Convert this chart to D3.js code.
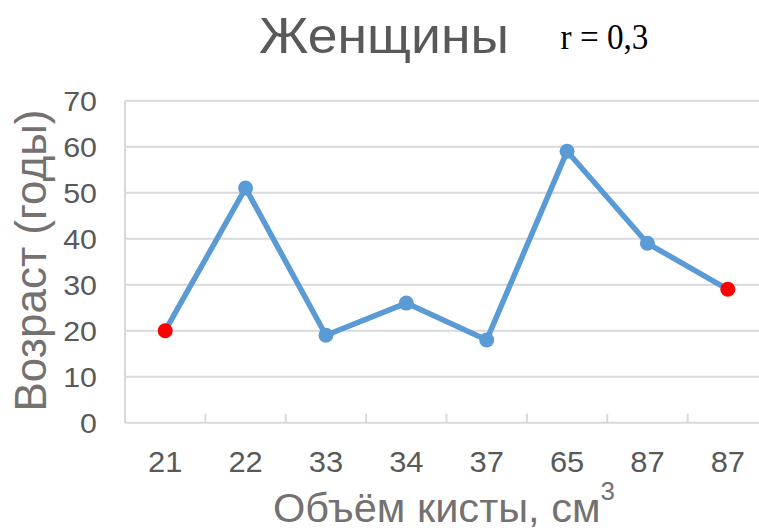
<!DOCTYPE html>
<html>
<head>
<meta charset="utf-8">
<script src="https://cdn.jsdelivr.net/npm/d3@7"></script>
<style>
  html, body { margin: 0; padding: 0; background: #fff; }
  svg { display: block; }
</style>
</head>
<body>
<svg id="chart" width="759" height="532"></svg>
<script>
// Cyst volume (cm³) per patient, in the order plotted
const categories = ["21", "22", "33", "34", "37", "65", "87", "87"];
// Patient age (years)
const ages = [20, 51, 19, 26, 18, 59, 39, 29];
// Points shown in red (first and last)
const highlighted = [true, false, false, false, false, false, false, true];
const yTicks = [0, 10, 20, 30, 40, 50, 60, 70];

const svg = d3.select("#chart");
const plotLeft = 125, plotRight = 768, plotTop = 100.7, plotBottom = 422.7;

const x = d3.scaleBand().domain(d3.range(categories.length)).range([plotLeft, plotRight]);
const y = d3.scaleLinear().domain([0, 70]).range([plotBottom, plotTop]);

const grid = "#d9d9d9";
const textCol = "#595959";
const titleCol = "#767171";
const sans = "Liberation Sans, Arial, sans-serif";
const widen = 1.065; // slightly wide lettering

// stretch a text element horizontally about a fixed x position
function stretch(sel, sx, ox) {
  sel.attr("transform", `translate(${ox},0) scale(${sx},1) translate(${-ox},0)`);
}
// stretch a centred text element so its width equals target
function fitWidth(sel, target, cx) {
  const w = sel.node().getBBox().width;
  stretch(sel, target / w, cx);
}

// horizontal gridlines
svg.append("g")
  .selectAll("line")
  .data(yTicks.filter(d => d > 0))
  .join("line")
  .attr("x1", plotLeft).attr("x2", plotRight)
  .attr("y1", d => y(d)).attr("y2", d => y(d))
  .attr("stroke", grid).attr("stroke-width", 2);

// left axis line
svg.append("line")
  .attr("x1", plotLeft).attr("x2", plotLeft)
  .attr("y1", plotTop).attr("y2", plotBottom)
  .attr("stroke", grid).attr("stroke-width", 2);

// category axis with ticks between categories
const xAxis = svg.append("g");
xAxis.append("line")
  .attr("x1", plotLeft).attr("x2", plotRight)
  .attr("y1", plotBottom).attr("y2", plotBottom)
  .attr("stroke", grid).attr("stroke-width", 2);
xAxis.selectAll("line.tick")
  .data(d3.range(categories.length + 1))
  .join("line").attr("class", "tick")
  .attr("x1", i => plotLeft + i * x.step()).attr("x2", i => plotLeft + i * x.step())
  .attr("y1", plotBottom - 9).attr("y2", plotBottom)
  .attr("stroke", grid).attr("stroke-width", 2);
xAxis.selectAll("text")
  .data(categories)
  .join("text")
  .attr("x", (d, i) => x(i) + x.bandwidth() / 2)
  .attr("y", 472)
  .attr("text-anchor", "middle")
  .attr("fill", textCol)
  .attr("font-family", sans)
  .attr("font-size", 29)
  .text(d => d)
  .each(function (d, i) { stretch(d3.select(this), widen, x(i) + x.bandwidth() / 2); });

// value axis labels
svg.append("g")
  .selectAll("text")
  .data(yTicks)
  .join("text")
  .attr("x", 97)
  .attr("y", d => y(d) + 10)
  .attr("text-anchor", "end")
  .attr("fill", textCol)
  .attr("font-family", sans)
  .attr("font-size", 28.5)
  .text(d => d)
  .each(function () { stretch(d3.select(this), widen, 97); });

// series line
const line = d3.line()
  .x((d, i) => x(i) + x.bandwidth() / 2)
  .y(d => y(d));
svg.append("path")
  .datum(ages)
  .attr("d", line)
  .attr("fill", "none")
  .attr("stroke", "#5b9bd5")
  .attr("stroke-width", 5.5)
  .attr("stroke-linejoin", "round");

// markers
svg.append("g")
  .selectAll("circle")
  .data(ages)
  .join("circle")
  .attr("cx", (d, i) => x(i) + x.bandwidth() / 2)
  .attr("cy", d => y(d))
  .attr("r", 7.5)
  .attr("fill", (d, i) => highlighted[i] ? "#ff0000" : "#5b9bd5");

// chart title
const title = svg.append("text")
  .attr("x", 384).attr("y", 53.5)
  .attr("text-anchor", "middle")
  .attr("fill", textCol)
  .attr("font-family", sans)
  .attr("font-size", 50)
  .text("Женщины");
fitWidth(title, 250, 384);

// correlation coefficient
const rText = svg.append("text")
  .attr("x", 604.5).attr("y", 49.5)
  .attr("text-anchor", "middle")
  .attr("fill", "#000")
  .attr("font-family", "Liberation Serif, Times New Roman, serif")
  .attr("font-size", 35)
  .text("r = 0,3");
fitWidth(rText, 88, 604.5);

// axis titles
const xTitle = svg.append("text")
  .attr("x", 444).attr("y", 522)
  .attr("text-anchor", "middle")
  .attr("fill", titleCol)
  .attr("font-family", sans)
  .attr("font-size", 40);
xTitle.append("tspan").text("Объём кисты, см");
xTitle.append("tspan").attr("dy", -22).attr("font-size", 25).text("3");
fitWidth(xTitle, 342, 444);

svg.append("text")
  .attr("transform", "translate(45.5,260.5) rotate(-90)")
  .attr("text-anchor", "middle")
  .attr("fill", titleCol)
  .attr("font-family", sans)
  .attr("font-size", 44)
  .text("Возраст (годы)");
</script>
</body>
</html>
